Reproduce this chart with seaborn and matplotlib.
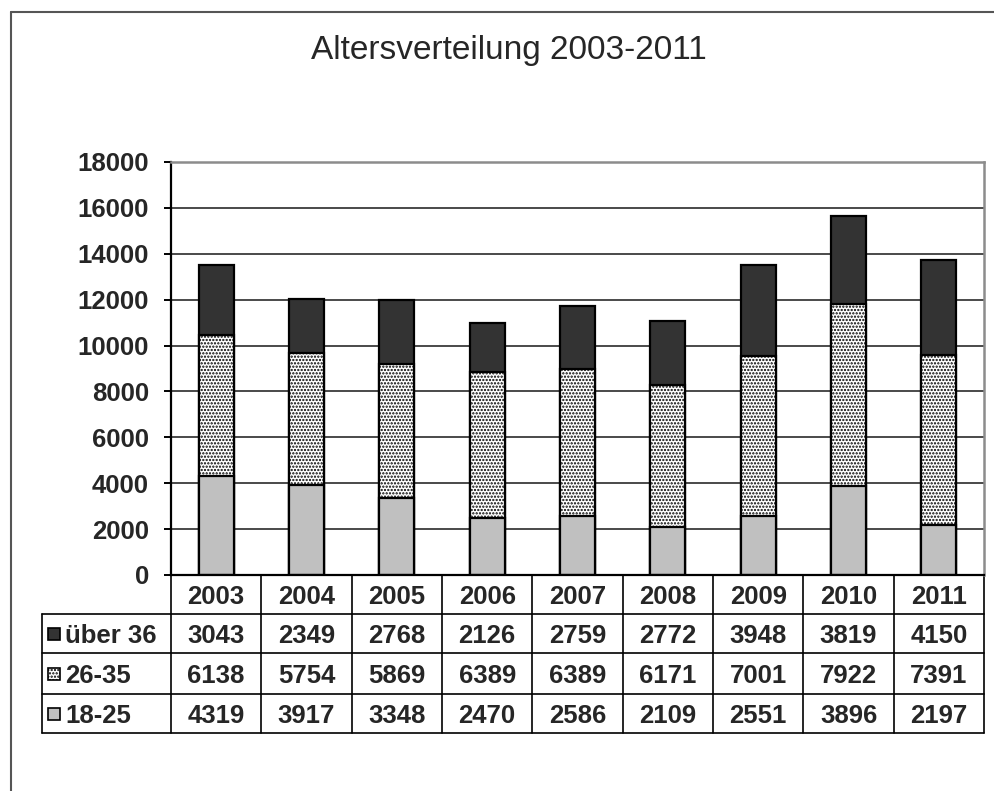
import matplotlib
matplotlib.use("Agg")
import matplotlib.pyplot as plt
from matplotlib.patches import Rectangle
from matplotlib.lines import Line2D
import seaborn as sns
import pandas as pd
import numpy as np

# ---- data ----
years = ["2003", "2004", "2005", "2006", "2007", "2008", "2009", "2010", "2011"]
age_18_25 = [4319, 3917, 3348, 2470, 2586, 2109, 2551, 3896, 2197]
age_26_35 = [6138, 5754, 5869, 6389, 6389, 6171, 7001, 7922, 7391]
age_36p = [3043, 2349, 2768, 2126, 2759, 2772, 3948, 3819, 4150]
series_names = ["über 36", "26-35", "18-25"]
title = "Altersverteilung 2003-2011"
yticks = [0, 2000, 4000, 6000, 8000, 10000, 12000, 14000, 16000, 18000]

df = pd.DataFrame({"Jahr": years, "a": age_18_25, "b": age_26_35, "c": age_36p})
df["cum2"] = df["a"] + df["b"]
df["total"] = df["cum2"] + df["c"]

sns.set_style("white")
plt.rcParams["font.family"] = ["Liberation Sans", "DejaVu Sans"]
plt.rcParams["hatch.linewidth"] = 1.1

W, H = 995, 791
fig = plt.figure(figsize=(W / 100, H / 100), dpi=100)
fig.patch.set_facecolor("white")

ax_l, ax_r, ax_t, ax_b = 171, 984, 162, 575
ax = fig.add_axes([ax_l / W, 1 - ax_b / H, (ax_r - ax_l) / W, (ax_b - ax_t) / H])

c_dark = "#333333"
c_light = "#c0c0c0"
bw = 0.39
common = dict(x="Jahr", order=years, saturation=1, width=bw, edgecolor="black",
              linewidth=1.6, errorbar=None, ax=ax)
sns.barplot(data=df, y="total", color=c_dark, **common)
sns.barplot(data=df, y="cum2", color="white", **common)
for p in ax.containers[-1]:
    p.set_hatch(".....")
sns.barplot(data=df, y="a", color=c_light, **common)

fs = 18.5
ax.set_xlim(-0.5, len(years) - 0.5)
ax.set_ylim(0, 18000)
ax.set_yticks(yticks)
ax.set_yticklabels([str(v) for v in yticks], fontsize=fs, fontweight="bold")
ax.set_xticks([])
ax.set_xlabel("")
ax.set_ylabel("")
ax.set_axisbelow(True)
ax.yaxis.grid(True, color="#4a4a4a", linewidth=1.4)
ax.tick_params(axis="y", direction="out", length=5, width=1.4, pad=11, color="black", left=True)
for s in ["left", "bottom"]:
    ax.spines[s].set_color("black")
    ax.spines[s].set_linewidth(1.6)
for s in ["top", "right"]:
    ax.spines[s].set_color("#8c8c8c")
    ax.spines[s].set_linewidth(1.8)
    ax.spines[s].set_visible(True)

# ---- data table below the plot ----
trans = ax.get_xaxis_transform()
hpx = ax_b - ax_t
catw = (ax_r - ax_l) / len(years)
row_px = [575, 614, 653, 694, 733]
rb = [(ax_b - p) / hpx for p in row_px]
x_left = -0.5 - (ax_l - 42) / catw
x_right = len(years) - 0.5
lkw = dict(color="black", linewidth=1.2, transform=trans, clip_on=False)
for y in rb[1:]:
    ax.add_line(Line2D([x_left, x_right], [y, y], **lkw))
for i in range(len(years) + 1):
    ax.add_line(Line2D([i - 0.5, i - 0.5], [rb[0], rb[-1]], **lkw))
ax.add_line(Line2D([x_left, x_left], [rb[1], rb[-1]], **lkw))

tkw = dict(fontsize=fs, fontweight="bold", transform=trans, clip_on=False, va="center_baseline")
for i, yr in enumerate(years):
    ax.text(i, (rb[0] + rb[1]) / 2, yr, ha="center", **tkw)

rows = [age_36p, age_26_35, age_18_25]
styles = [dict(facecolor=c_dark, hatch=None), dict(facecolor="white", hatch="....."),
          dict(facecolor=c_light, hatch=None)]
key_x = (48 - ax_l) / catw - 0.5
key_w = 12 / catw
key_h = 12 / hpx
lab_x = (65 - ax_l) / catw - 0.5
for r, (vals, name, st) in enumerate(zip(rows, series_names, styles)):
    ym = (rb[r + 1] + rb[r + 2]) / 2
    for i, v in enumerate(vals):
        ax.text(i, ym, str(v), ha="center", **tkw)
    ax.text(lab_x, ym, name, ha="left", **tkw)
    rect = Rectangle((key_x, ym - key_h / 2), key_w, key_h, transform=trans, clip_on=False,
                     edgecolor="black", linewidth=1.2, **st)
    ax.add_patch(rect)

# ---- title ----
fig.text(509 / W, 1 - 51 / H, title, ha="center", va="center", fontsize=24)

# ---- outer chart border (partly cropped) ----
fig.add_artist(Line2D([11 / W, 11 / W], [0, 1 - 12 / H], transform=fig.transFigure,
                      color="#555555", linewidth=1.5))
fig.add_artist(Line2D([11 / W, 1], [1 - 12 / H, 1 - 12 / H], transform=fig.transFigure,
                      color="#555555", linewidth=1.5))

fig.savefig("out.png", dpi=100, facecolor="white")
